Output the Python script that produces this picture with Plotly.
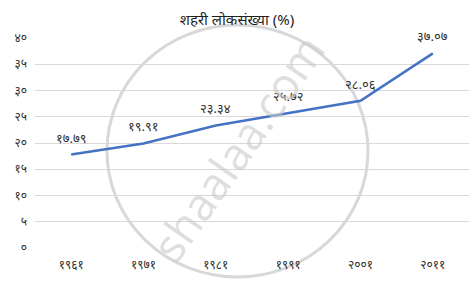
import plotly.graph_objects as go

DEV = str.maketrans("0123456789", "०१२३४५६७८९")

years = ["1961", "1971", "1981", "1991", "2001", "2011"]
urban_pct = [17.79, 19.91, 23.34, 25.72, 28.06, 37.07]
y_ticks = [0, 5, 10, 15, 20, 25, 30, 35, 40]
title_text = "शहरी लोकसंख्या (%)"

x_labels = [y.translate(DEV) for y in years]
point_labels = [f"{v:.2f}".translate(DEV) for v in urban_pct]
y_tick_text = [str(t).translate(DEV) for t in y_ticks]

FONT = "Noto Sans, Noto Sans Devanagari, sans-serif"
TXT = "#303030"

fig = go.Figure()
fig.add_trace(go.Scatter(
    x=x_labels, y=urban_pct, mode="lines",
    line=dict(color="#4472C4", width=2.5),
    cliponaxis=False, hoverinfo="skip",
))
for xl, v, lab in zip(x_labels, urban_pct, point_labels):
    fig.add_annotation(x=xl, y=v, text=lab, showarrow=False, yshift=17,
                       font=dict(size=13, color=TXT, family=FONT))

# watermark
fig.add_shape(type="circle", xref="paper", yref="paper",
              x0=(107 - 35) / 434, x1=(368 - 35) / 434,
              y0=(248 - 277) / 210, y1=(248 - 25) / 210,
              line=dict(color="rgba(200,200,200,0.7)", width=3), layer="below")
fig.add_annotation(text="shaalaa.com", xref="paper", yref="paper",
                   x=(237 - 35) / 434, y=(248 - 147) / 210, showarrow=False,
                   textangle=-55, font=dict(size=45, color="rgba(200,200,200,0.6)",
                                            family="Open Sans, sans-serif"))

fig.update_layout(
    width=474, height=292,
    margin=dict(l=35, r=5, t=38, b=44),
    paper_bgcolor="white", plot_bgcolor="white",
    showlegend=False,
    title=dict(text=title_text, x=0.5, xanchor="center", y=1 - 20 / 292, yanchor="middle",
               font=dict(size=15, color="#1f1f1f", family=FONT)),
    font=dict(family=FONT, color=TXT),
)
fig.update_xaxes(type="category", showgrid=False, showline=False, zeroline=False,
                 tickfont=dict(size=12, color=TXT, family=FONT),
                 ticks="", ticklabelstandoff=8, range=[-0.5, 5.5])
fig.update_yaxes(range=[0, 40], tickvals=y_ticks, ticktext=y_tick_text,
                 showgrid=True, gridcolor="#D9D9D9", gridwidth=1,
                 zeroline=False, showline=False, ticks="",
                 ticklabelstandoff=7,
                 tickfont=dict(size=12, color=TXT, family=FONT))

fig.write_html("out.html")
